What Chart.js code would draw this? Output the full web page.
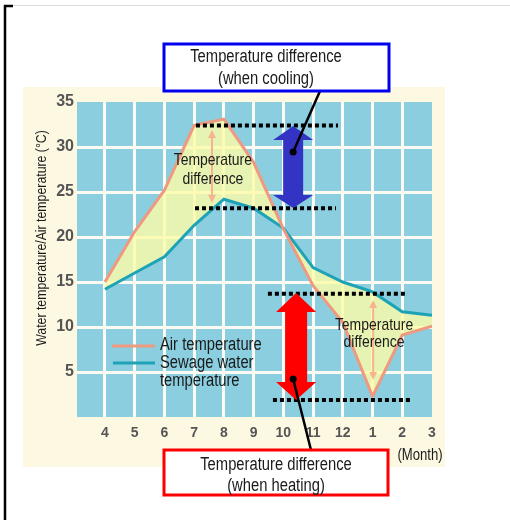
<!DOCTYPE html>
<html>
<head>
<meta charset="utf-8">
<script src="https://cdn.jsdelivr.net/npm/chart.js@4.4.0/dist/chart.umd.min.js"></script>
<style>
  html, body { margin: 0; padding: 0; background: #fff; }
  canvas { display: block; }
</style>
</head>
<body>
<canvas id="chart" width="510" height="520"></canvas>
<script>
// month labels (April .. March) and temperatures in °C
var months = ['4', '5', '6', '7', '8', '9', '10', '11', '12', '1', '2', '3'];
var airTemp = [15.0, 20.6, 25.2, 32.4, 33.1, 28.3, 20.9, 14.6, 10.5, 2.3, 9.1, 10.1];
var sewageTemp = [14.2, 16.0, 17.8, 21.3, 24.2, 23.2, 21.0, 16.6, 15.0, 13.9, 11.7, 11.3];

var SANS = "'Liberation Sans', Arial, sans-serif";
var GRID = '#fbfbf3';

function points(values) {
    return values.map(function(v, i) {
        return { x: i, y: v };
    });
}

// text squeezed horizontally, like the narrow face of the original
function label(ctx, str, x, y, size, align) {
    ctx.save();
    ctx.translate(x, y);
    ctx.scale(0.82, 1);
    ctx.font = size + 'px ' + SANS;
    ctx.textAlign = align || 'center';
    ctx.textBaseline = 'middle';
    ctx.fillStyle = '#1a1a1a';
    ctx.fillText(str, 0, 0);
    ctx.restore();
}

function dotted(ctx, x1, x2, y) {
    ctx.save();
    ctx.strokeStyle = '#000';
    ctx.lineWidth = 4;
    ctx.setLineDash([4, 3]);
    ctx.beginPath();
    ctx.moveTo(x1, y);
    ctx.lineTo(x2, y);
    ctx.stroke();
    ctx.restore();
}

// fat double headed arrow
function bigArrow(ctx, cx, tip1, base1, base2, tip2, headHalf, shaftHalf, color) {
    ctx.save();
    ctx.fillStyle = color;
    ctx.beginPath();
    ctx.moveTo(cx, tip1);
    ctx.lineTo(cx + headHalf, base1);
    ctx.lineTo(cx + shaftHalf, base1);
    ctx.lineTo(cx + shaftHalf, base2);
    ctx.lineTo(cx + headHalf, base2);
    ctx.lineTo(cx, tip2);
    ctx.lineTo(cx - headHalf, base2);
    ctx.lineTo(cx - shaftHalf, base2);
    ctx.lineTo(cx - shaftHalf, base1);
    ctx.lineTo(cx - headHalf, base1);
    ctx.closePath();
    ctx.fill();
    ctx.restore();
}

// thin double arrow inside the filled area
function thinArrow(ctx, x, y1, y2) {
    ctx.save();
    ctx.strokeStyle = '#f6b48e';
    ctx.fillStyle = '#f6b48e';
    ctx.lineWidth = 2;
    ctx.beginPath();
    ctx.moveTo(x, y1 + 4);
    ctx.lineTo(x, y2 - 4);
    ctx.stroke();
    ctx.beginPath();
    ctx.moveTo(x, y1);
    ctx.lineTo(x + 4, y1 + 8);
    ctx.lineTo(x - 4, y1 + 8);
    ctx.closePath();
    ctx.fill();
    ctx.beginPath();
    ctx.moveTo(x, y2);
    ctx.lineTo(x + 4, y2 - 8);
    ctx.lineTo(x - 4, y2 - 8);
    ctx.closePath();
    ctx.fill();
    ctx.restore();
}

function callout(ctx, x1, y1, x2, y2) {
    ctx.save();
    ctx.strokeStyle = '#000';
    ctx.fillStyle = '#000';
    ctx.lineWidth = 2.5;
    ctx.beginPath();
    ctx.moveTo(x1, y1);
    ctx.lineTo(x2, y2);
    ctx.stroke();
    ctx.beginPath();
    ctx.arc(x2, y2, 3.5, 0, Math.PI * 2);
    ctx.fill();
    ctx.restore();
}

function box(ctx, x, y, w, h, color, lines, cx, ys) {
    ctx.save();
    ctx.fillStyle = '#fff';
    ctx.fillRect(x, y, w, h);
    ctx.strokeStyle = color;
    ctx.lineWidth = 3;
    ctx.strokeRect(x, y, w, h);
    ctx.restore();
    lines.forEach(function(t, i) {
        label(ctx, t, cx, ys[i], 18);
    });
}

var decor = {
    id: 'decor',
    beforeDraw: function(chart) {
        var ctx = chart.ctx, a = chart.chartArea;
        ctx.save();
        ctx.fillStyle = '#fff';
        ctx.fillRect(0, 0, chart.width, chart.height);
        // page frame
        ctx.strokeStyle = '#dcdcdc';
        ctx.lineWidth = 1;
        ctx.beginPath();
        ctx.moveTo(5, 5.5);
        ctx.lineTo(510, 5.5);
        ctx.stroke();
        ctx.strokeStyle = '#000';
        ctx.lineWidth = 2.5;
        ctx.beginPath();
        ctx.moveTo(13, 6);
        ctx.lineTo(5, 6);
        ctx.lineTo(5, 520);
        ctx.stroke();
        // cream card and blue plot
        ctx.fillStyle = '#fdf8e2';
        ctx.fillRect(23, 87, 422, 380);
        ctx.fillStyle = '#8bcee0';
        ctx.fillRect(a.left, a.top, a.right - a.left, a.bottom - a.top);
        ctx.restore();
    },
    afterDraw: function(chart) {
        var ctx = chart.ctx;
        var xs = chart.scales.x, ys = chart.scales.y;
        var px = function(v) { return xs.getPixelForValue(v); };
        var py = function(v) { return ys.getPixelForValue(v); };

        // small arrows + labels inside the filled areas
        thinArrow(ctx, px(3.6), py(31.9), py(23.8));
        thinArrow(ctx, px(9.02), py(13.0), py(4.1));
        label(ctx, 'Temperature', px(3.63), py(28.56), 17);
        label(ctx, 'difference', px(3.63), py(26.44), 17);
        label(ctx, 'Temperature', px(9.05), py(10.22), 17);
        label(ctx, 'difference', px(9.05), py(8.33), 17);

        // dotted level lines
        dotted(ctx, px(3.06), px(7.84), py(32.4));
        dotted(ctx, px(3.03), px(7.77), py(23.2));
        dotted(ctx, px(5.48), px(10.19), py(13.7));
        dotted(ctx, px(5.65), px(10.33), py(1.9));

        // cooling / heating arrows
        bigArrow(ctx, px(6.33), py(32.33), py(30.78), py(24.67), py(23.22), 20, 10, '#3434c4');
        bigArrow(ctx, px(6.43), py(13.78), py(11.67), py(3.89), py(1.89), 20, 11, '#ff0000');

        // callout boxes
        callout(ctx, 320, 91, px(6.33), py(29.44));
        callout(ctx, 311, 450, px(6.33), py(4.22));
        box(ctx, 164, 44, 225, 47, '#0000ee',
            ['Temperature difference', '(when cooling)'], 266, [57, 79]);
        box(ctx, 164, 450, 224, 45, '#ff0000',
            ['Temperature difference', '(when heating)'], 276, [465, 486]);

        // legend
        ctx.save();
        ctx.lineWidth = 3;
        ctx.strokeStyle = '#ef9a80';
        ctx.beginPath();
        ctx.moveTo(112, 346);
        ctx.lineTo(155, 346);
        ctx.stroke();
        ctx.strokeStyle = '#1ea3b6';
        ctx.beginPath();
        ctx.moveTo(113, 363);
        ctx.lineTo(155, 363);
        ctx.stroke();
        ctx.restore();
        label(ctx, 'Air temperature', 160, 345, 18, 'left');
        label(ctx, 'Sewage water', 160, 363, 18, 'left');
        label(ctx, 'temperature', 160, 381, 18, 'left');

        // axis titles
        label(ctx, '(Month)', 420, 456, 16);
        ctx.save();
        ctx.translate(42, 238);
        ctx.rotate(-Math.PI / 2);
        label(ctx, 'Water temperature/Air temperature (°C)', 0, 0, 15);
        ctx.restore();
    }
};

var ctx = document.getElementById('chart').getContext('2d');

new Chart(ctx, {
    type: 'line',
    data: {
        datasets: [{
            label: 'Air temperature',
            data: points(airTemp),
            borderColor: '#ef9a80',
            borderWidth: 3,
            pointRadius: 0,
            tension: 0,
            fill: {
                target: 1,
                above: 'rgba(252,252,168,0.8)',
                below: 'rgba(252,252,168,0.8)'
            }
        }, {
            label: 'Sewage water temperature',
            data: points(sewageTemp),
            borderColor: '#1ea3b6',
            borderWidth: 3,
            pointRadius: 0,
            tension: 0,
            fill: false
        }]
    },
    options: {
        responsive: false,
        animation: false,
        layout: {
            padding: { left: 37, right: 78, top: 102, bottom: 73 }
        },
        plugins: {
            legend: { display: false },
            tooltip: { enabled: false },
            filler: { drawTime: 'beforeDatasetsDraw' }
        },
        scales: {
            x: {
                type: 'linear',
                min: -0.94,
                max: 11,
                afterFit: function(s) { s.height = 30; },
                border: { display: false },
                grid: {
                    lineWidth: 3,
                    drawTicks: false,
                    color: function(c) { return c.tick && c.tick.value >= 11 ? 'rgba(0,0,0,0)' : GRID; }
                },
                ticks: {
                    stepSize: 1,
                    includeBounds: false,
                    autoSkip: false,
                    maxRotation: 0,
                    padding: 8,
                    color: '#555',
                    font: { family: SANS, size: 14, weight: 'bold' },
                    callback: function(v) { return months[v] !== undefined ? months[v] : ''; }
                }
            },
            y: {
                min: 0,
                max: 35,
                afterFit: function(s) { s.width = 40; },
                border: { display: false },
                grid: {
                    lineWidth: 3,
                    drawTicks: false,
                    color: function(c) {
                        var v = c.tick && c.tick.value;
                        return v === 0 || v === 35 ? 'rgba(0,0,0,0)' : GRID;
                    }
                },
                ticks: {
                    stepSize: 5,
                    padding: 3,
                    color: '#555',
                    font: { family: SANS, size: 16, weight: 'bold' },
                    callback: function(v) { return v === 0 ? '' : v; }
                }
            }
        }
    },
    plugins: [decor]
});
</script>
</body>
</html>
